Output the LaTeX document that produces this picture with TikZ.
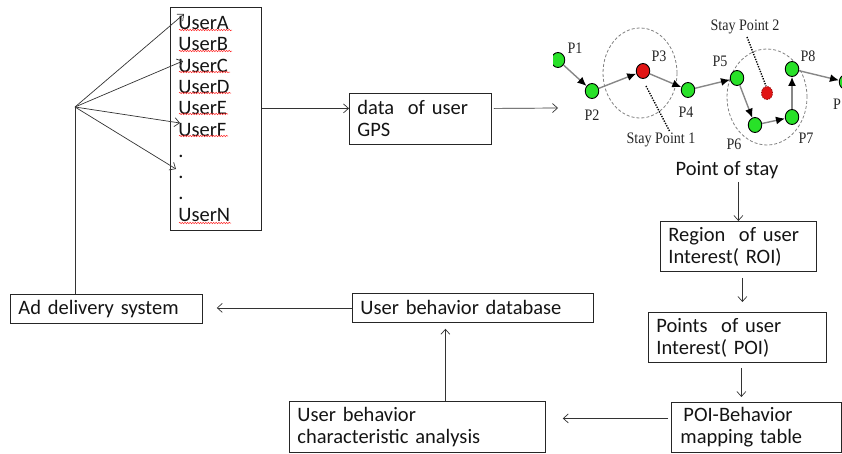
\documentclass[tikz,border=0pt]{standalone}
\usepackage{fontspec}
\setmainfont{Carlito}
\newfontfamily\timesf{Liberation Serif}
\usepackage{graphicx}
\usetikzlibrary{arrows.meta,shapes.geometric,decorations.pathmorphing}
\definecolor{txt}{RGB}{20,20,20}
\definecolor{gpsgreen}{RGB}{40,225,40}
\definecolor{gpsred}{RGB}{225,20,20}
\definecolor{trajgray}{RGB}{135,135,135}
\newcommand{\gpslab}[1]{\scalebox{0.88}[1]{#1}}
\begin{document}
\begin{tikzpicture}[x=1pt,y=1pt,
  box/.style={draw=black!85, line width=0.8pt, anchor=north west, inner xsep=8pt, inner ysep=2pt,
    align=left, font=\fontsize{20.5}{22}\selectfont, text=txt},
  plain/.style={inner sep=0pt, font=\fontsize{20.5}{22}\selectfont, text=txt},
  flow/.style={draw=black!80, line width=0.7pt, -{Straight Barb[length=5pt,width=9pt]}},
  gpt/.style={ellipse, draw=black, line width=0.9pt, minimum width=13.5pt, minimum height=15pt, inner sep=0pt, fill=gpsgreen},
  rpt/.style={gpt, fill=gpsred},
  traj/.style={draw=trajgray, line width=1.4pt, -{Latex[length=9pt,width=8pt,color=black]}},
  stayzone/.style={ellipse, draw=black!50, dashed, dash pattern=on 3pt off 2pt, line width=0.8pt, inner sep=0pt},
  dotline/.style={draw=black, line width=1.4pt, dash pattern=on 1.3pt off 1.3pt},
  glab/.style={inner sep=0pt, font=\timesf\fontsize{16}{17}\selectfont, text=black!85},
  wavy/.style={draw=red!85, line width=0.5pt, decorate, decoration={snake, amplitude=0.7pt, segment length=2.6pt}}
]
\useasboundingbox (0,0) rectangle (842,-453);

% ---------- boxes ----------
\node[box, minimum width=91pt, minimum height=223pt, text width=75pt,
      font=\fontsize{20.5}{21.3}\selectfont] (users) at (170,-7)
  {UserA\\UserB\\UserC\\UserD\\UserE\\UserF\\.\\.\\.\\UserN};
\node[box, minimum width=142pt, minimum height=51pt, text width=126pt] (data) at (349,-93)
  {data\ \ of user\\GPS};
\node[box, minimum width=156pt, minimum height=50pt, text width=140pt] (roi) at (660,-221)
  {Region\ \ of user\\Interest( ROI)};
\node[box, minimum width=178pt, minimum height=50pt, text width=162pt] (poi) at (648,-312)
  {Points\ \ of user\\Interest( POI)};
\node[box, minimum width=170pt, minimum height=50pt, text width=152pt, inner xsep=9pt] (poib) at (671,-402)
  {\hspace{3pt}POI-Behavior\\mapping table};
\node[box, minimum width=256pt, minimum height=51pt, text width=240pt] (ubca) at (289,-401)
  {User behavior\\characteristic analysis};
\node[box, minimum width=241pt, minimum height=29pt, text width=225pt] (ubd) at (352,-293)
  {User behavior database};
\node[box, minimum width=192pt, minimum height=29pt, text width=176pt] (ad) at (10,-294)
  {Ad delivery system};
\node[plain] (pos) at (727,-170) {Point of stay};

% spell-check underlines
\draw[wavy] (179,-30) -- (232,-30);
\draw[wavy] (179,-51) -- (232,-51);
\draw[wavy] (179,-72) -- (230,-72);
\draw[wavy] (179,-93) -- (231,-93);
\draw[wavy] (179,-114) -- (228,-114);
\draw[wavy] (179,-136) -- (228,-136);
\draw[wavy] (179,-223) -- (231,-223);

% ---------- fan to users ----------
\coordinate (fan) at (75,-107);
\coordinate (ua) at (184,-14);
\coordinate (uc) at (183,-61);
\coordinate (uf) at (180,-123);
\coordinate (ud) at (176,-169);
\draw[flow] (fan) -- (ua);
\draw[flow] (fan) -- (uc);
\draw[flow] (fan) -- (uf);
\draw[flow] (fan) -- (ud);
\draw[draw=black!80, line width=0.7pt] (fan) -- (fan |- ad.north);

% ---------- main flow ----------
\coordinate (gpsin) at (558,-108);
\draw[flow] ([yshift=10.5pt]users.east) -- ([yshift=10.5pt]data.west);
\draw[flow] ([xshift=2pt,yshift=10.5pt]data.east) -- (gpsin);
\draw[flow, shorten <=3pt] (pos.south -| roi.north) -- (roi.north);
\draw[flow, shorten <=6pt, shorten >=10pt] ([xshift=4pt]roi.south) -- ([xshift=4pt]roi.south |- poi.north);
\draw[flow, shorten <=5pt, shorten >=5pt] ([xshift=4pt]poi.south) -- ([xshift=4pt]poi.south |- poib.north);
\draw[flow, shorten <=3pt, shorten >=17pt] ([yshift=9pt]poib.west) -- ([yshift=9pt]poib.west -| ubca.east);
\draw[flow, shorten >=6pt] ([xshift=28pt]ubca.north) -- ([xshift=28pt]ubca.north |- ubd.south);
\draw[flow, shorten >=14pt] (ubd.west) -- (ubd.west -| ad.east);

% ---------- GPS trajectory picture ----------
\begin{scope}
\clip (553,0) rectangle (842,-160);
\node[stayzone, minimum width=74pt, minimum height=90pt] (zone1) at (640,-73) {};
\node[stayzone, minimum width=80pt, minimum height=96pt] (zone2) at (767,-97) {};
\node[gpt] (p1) at (558,-60) {};
\node[gpt] (p2) at (592,-91) {};
\node[rpt] (p3) at (643,-71) {};
\node[gpt] (p4) at (688,-90) {};
\node[gpt] (p5) at (737,-78) {};
\node[gpt] (p6) at (755,-125) {};
\node[gpt] (p7) at (792,-117) {};
\node[gpt] (p8) at (792,-69) {};
\node[gpt] (p9) at (846,-82) {};
\node[ellipse, draw=gpsred!70!black, dashed, dash pattern=on 1.5pt off 1pt, line width=0.8pt,
      fill=gpsred, minimum width=11pt, minimum height=13pt, inner sep=0pt] (sp2pt) at (767,-93) {};
\draw[traj] (p1) -- (p2);
\draw[traj] (p2) -- (p3);
\draw[traj] (p3) -- (p4);
\draw[traj] (p4) -- (p5);
\draw[traj] (p5) -- (p6);
\draw[traj] (p6) -- (p7);
\draw[traj] (p7) -- (p8);
\draw[traj] (p8) -- (p9);
\node[glab] (l1) at (575,-48) {\gpslab{P1}};
\node[glab] (l2) at (592,-115) {\gpslab{P2}};
\node[glab] (l3) at (659,-56) {\gpslab{P3}};
\node[glab] (l4) at (686,-112) {\gpslab{P4}};
\node[glab] (l5) at (720,-61) {\gpslab{P5}};
\node[glab] (l6) at (734,-144) {\gpslab{P6}};
\node[glab] (l7) at (806,-138) {\gpslab{P7}};
\node[glab] (l8) at (808,-56) {\gpslab{P8}};
\node[glab] (l9) at (837,-104) {\gpslab{P}};
\node[glab] (sp1) at (661,-140) {\gpslab{Stay Point 1}};
\node[glab] (sp2) at (745,-27) {\gpslab{Stay Point 2}};
\coordinate (d1a) at (646,-86);
\coordinate (d1b) at (670,-132);
\coordinate (d2a) at (747,-37);
\coordinate (d2b) at (766,-86);
\draw[dotline] (d1a) -- (d1b);
\draw[dotline] (d2a) -- (d2b);
\end{scope}
\end{tikzpicture}
\end{document}
